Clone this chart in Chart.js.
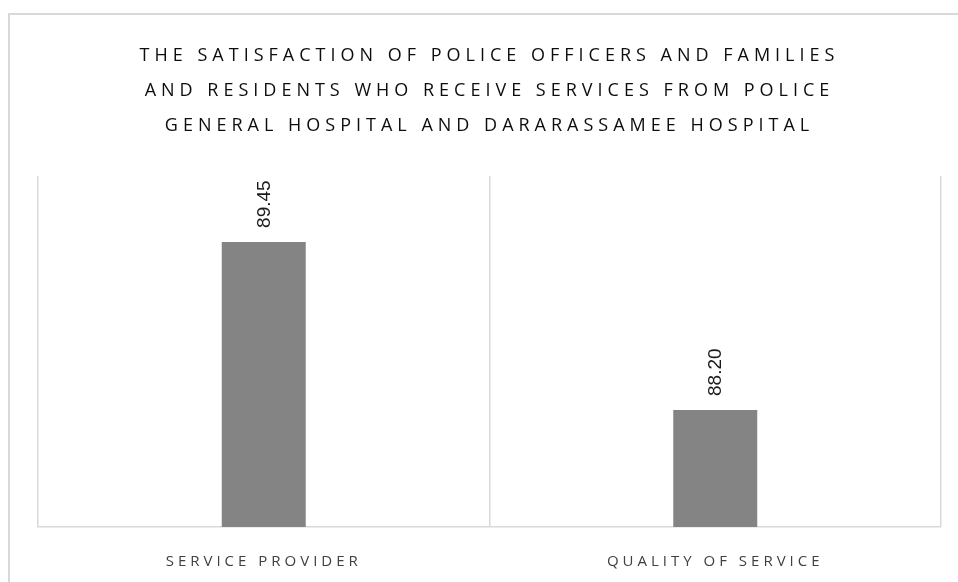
<!DOCTYPE html>
<html>
<head>
<meta charset="utf-8">
<script src="https://cdn.jsdelivr.net/npm/chart.js@4.4.1/dist/chart.umd.min.js"></script>
<style>
  html, body { margin: 0; padding: 0; background: #fff; overflow: hidden; }
  .frame {
    position: absolute; left: 8px; top: 13px; width: 1000px; height: 1000px;
    border-left: 2px solid #d9d9d9; border-top: 2px solid #d9d9d9;
  }
  #chart { position: absolute; left: 0; top: 0; }
</style>
</head>
<body>
<div class="frame"></div>
<canvas id="chart" width="958" height="597"></canvas>
<script>
// chart data
const titleLines = [
  'THE SATISFACTION OF POLICE OFFICERS AND FAMILIES',
  'AND RESIDENTS WHO RECEIVE SERVICES FROM POLICE',
  'GENERAL HOSPITAL AND DARARASSAMEE HOSPITAL'
];
const categories = ['SERVICE PROVIDER', 'QUALITY OF SERVICE'];
const scores = [89.45, 88.20];

const ctx = document.getElementById('chart').getContext('2d');

// letter spacing for title / tick labels, rotated value labels above bars
const spacingAndLabels = {
  id: 'spacingAndLabels',
  beforeDraw(chart) {
    chart.ctx.letterSpacing = '5px'; // title
  },
  beforeDatasetsDraw(chart) {
    chart.ctx.letterSpacing = '0px';
  },
  afterDatasetsDraw(chart) {
    const c = chart.ctx;
    const meta = chart.getDatasetMeta(0);
    c.save();
    c.font = '19px "Liberation Sans", Arial, sans-serif';
    c.fillStyle = '#1a1a1a';
    c.textAlign = 'left';
    c.textBaseline = 'middle';
    meta.data.forEach((bar, i) => {
      c.save();
      c.translate(bar.x + 1, bar.y - 14);
      c.rotate(-Math.PI / 2);
      c.fillText(scores[i].toFixed(2), 0, 0);
      c.restore();
    });
    c.restore();
    c.letterSpacing = '4px'; // x tick labels are drawn after datasets (z: 1)
  },
  afterDraw(chart) {
    chart.ctx.letterSpacing = '0px';
  }
};

new Chart(ctx, {
  type: 'bar',
  data: {
    labels: categories,
    datasets: [{
      data: scores,
      backgroundColor: '#848484',
      borderWidth: 0,
      barPercentage: 0.186,
      categoryPercentage: 1
    }]
  },
  options: {
    responsive: false,
    animation: false,
    layout: { padding: { left: 38, right: 17, top: 0, bottom: 0 } },
    scales: {
      x: {
        grid: { display: true, offset: true, color: '#d9d9d9', lineWidth: 1.5, drawTicks: false },
        border: { display: true, color: '#d9d9d9', width: 1.5 },
        ticks: {
          z: 1,
          padding: 26,
          color: '#404040',
          font: { family: '"Open Sans", sans-serif', size: 15 }
        }
      },
      y: {
        display: false,
        min: 87.33,
        max: 89.94
      }
    },
    plugins: {
      legend: { display: false },
      tooltip: { enabled: false },
      title: {
        display: true,
        text: titleLines,
        color: '#0d0d0d',
        font: { family: '"Open Sans", sans-serif', size: 18, weight: 'normal', lineHeight: 35 / 18 },
        padding: { top: 38.5, bottom: 32.5 }
      }
    }
  },
  plugins: [spacingAndLabels]
});
</script>
</body>
</html>
